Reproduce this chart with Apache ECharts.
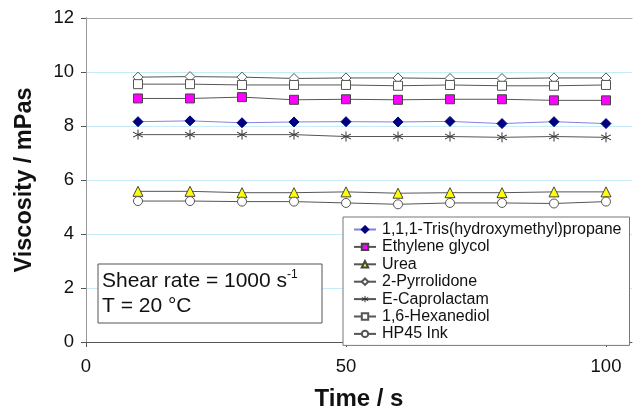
<!DOCTYPE html>
<html>
<head>
<meta charset="utf-8">
<script src="https://cdn.jsdelivr.net/npm/echarts@6/dist/echarts.min.js"></script>
<style>
  html, body { margin: 0; padding: 0; background: #fff; }
  #main { width: 637px; height: 416px; }
</style>
</head>
<body>
<div id="main"></div>
<script>
const times = [10, 20, 30, 40, 50, 60, 70, 80, 90, 100];

const tris = [8.16, 8.19, 8.12, 8.15, 8.16, 8.15, 8.17, 8.09, 8.16, 8.09];
const ethyleneGlycol = [9.02, 9.02, 9.07, 8.97, 8.99, 8.97, 8.99, 8.99, 8.95, 8.95];
const urea = [5.58, 5.58, 5.53, 5.53, 5.56, 5.51, 5.53, 5.53, 5.56, 5.56];
const pyrrolidone = [9.81, 9.83, 9.81, 9.76, 9.78, 9.78, 9.76, 9.76, 9.78, 9.78];
const caprolactam = [7.68, 7.68, 7.68, 7.68, 7.61, 7.61, 7.61, 7.58, 7.61, 7.58];
const hexanediol = [9.55, 9.55, 9.52, 9.52, 9.52, 9.49, 9.52, 9.49, 9.49, 9.52];
const hp45 = [5.22, 5.22, 5.2, 5.2, 5.15, 5.1, 5.15, 5.15, 5.13, 5.2];

const xTicks = [0, 50, 100];

const myChart = echarts.init(document.getElementById('main'));
const FONT = '"Liberation Sans", Arial, sans-serif';
// six-armed star: vertical stroke plus an X
const asterisk = 'path://M5,0L5,10M0.7,2.5L9.3,7.5M9.3,2.5L0.7,7.5';

function pairs(arr) {
  return arr.map((v, i) => [times[i], v]);
}

function makeSeries(name, data, symbol, size, fill, border, lineColor) {
  return {
    name: name,
    type: 'line',
    data: pairs(data),
    symbol: symbol,
    symbolSize: size,
    showAllSymbol: true,
    lineStyle: { color: lineColor, width: 1 },
    itemStyle: { color: fill, borderColor: border, borderWidth: 1 },
    emphasis: { disabled: true },
  };
}

const names = ['1,1,1-Tris(hydroxymethyl)propane', 'Ethylene glycol', 'Urea', '2-Pyrrolidone',
  'E-Caprolactam', '1,6-Hexanediol', 'HP45 Ink'];

myChart.setOption({
  animation: false,
  textStyle: { fontFamily: FONT },
  grid: { left: 86, top: 18, right: 5, bottom: 65 },
  legend: {
    orient: 'vertical',
    left: 343,
    top: 217,
    width: 284,
    padding: [4, 8, 3, 10],
    itemGap: 0.4,
    itemWidth: 22,
    itemHeight: 8,
    borderColor: '#777',
    borderWidth: 1,
    borderRadius: 0,
    backgroundColor: '#fff',
    textStyle: { fontSize: 16, lineHeight: 17, color: '#111', fontFamily: FONT, padding: [0, 0, 0, 1] },
    data: names.map((n) => n === 'E-Caprolactam'
      ? { name: n, itemStyle: { color: 'none', borderColor: '#333', borderWidth: 1 } }
      : n),
  },
  xAxis: [
    {
      type: 'value',
      min: 0,
      max: 105,
      name: 'Time / s',
      nameLocation: 'middle',
      nameGap: 45,
      nameTextStyle: { fontSize: 24, fontWeight: 'bold', color: '#111' },
      axisLine: { onZero: false, lineStyle: { color: '#555' } },
      axisTick: { customValues: xTicks, length: 5, lineStyle: { color: '#555' } },
      axisLabel: { customValues: xTicks, fontSize: 18.5, color: '#111', margin: 15 },
      splitLine: { show: false },
    },
    {
      type: 'value',
      position: 'top',
      min: 0,
      max: 105,
      axisLine: { show: true, onZero: false, lineStyle: { color: '#aaa' } },
      axisTick: { show: false },
      axisLabel: { show: false },
      splitLine: { show: false },
    },
  ],
  yAxis: [
    {
      type: 'value',
      min: 0,
      max: 12,
      interval: 2,
      name: 'Viscosity / mPas',
      nameLocation: 'middle',
      nameGap: 49,
      nameTextStyle: { fontSize: 23.5, fontWeight: 'bold', color: '#111' },
      axisLine: { show: true, lineStyle: { color: '#555' } },
      axisTick: { show: true, length: 5, lineStyle: { color: '#555' } },
      axisLabel: { fontSize: 18.5, color: '#111', margin: 12 },
      splitLine: { show: true, lineStyle: { color: '#c6ecf8' } },
    },
    {
      type: 'value',
      position: 'right',
      min: 0,
      max: 12,
      interval: 2,
      axisLine: { show: true, lineStyle: { color: '#999' } },
      axisTick: { show: false },
      axisLabel: { show: false },
      splitLine: { show: false },
    },
  ],
  graphic: [
    {
      type: 'rect',
      shape: { x: 98, y: 264, width: 224, height: 59 },
      style: { fill: '#fff', stroke: '#555', lineWidth: 1 },
      z: 100,
    },
    {
      type: 'text',
      left: 102,
      top: 269,
      z: 101,
      style: {
        text: '{a|Shear rate = 1000 s}{s|-1}\n{a|T = 20 °C}',
        rich: {
          a: { fontSize: 21, fontFamily: FONT, fill: '#111', lineHeight: 25.5 },
          s: { fontSize: 12, fontFamily: FONT, fill: '#111', lineHeight: 25.5, padding: [0, 0, 12, 0] },
        },
      },
    },
  ],
  series: [
    makeSeries(names[0], tris, 'diamond', 10, '#000080', '#000080', '#8080e8'),
    makeSeries(names[1], ethyleneGlycol, 'rect', 9, '#ff00ff', '#444', '#555'),
    makeSeries(names[2], urea, 'triangle', 10, '#ffff00', '#444', '#555'),
    makeSeries(names[3], pyrrolidone, 'diamond', 10, '#fff', '#555', '#555'),
    makeSeries(names[4], caprolactam, asterisk, 10, 'none', '#333', '#555'),
    makeSeries(names[5], hexanediol, 'rect', 9, '#fff', '#555', '#555'),
    makeSeries(names[6], hp45, 'circle', 9, '#fff', '#555', '#555'),
  ],
});
</script>
</body>
</html>
